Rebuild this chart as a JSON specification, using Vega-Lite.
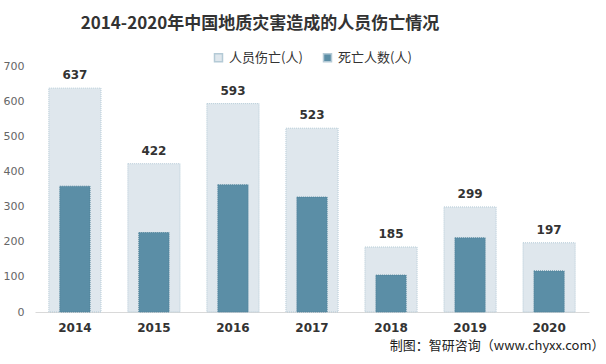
{
  "$schema": "https://vega.github.io/schema/vega-lite/v6.json",
  "width": 554,
  "height": 246,
  "autosize": {"type": "none"},
  "padding": {"left": 35, "top": 66, "right": 17, "bottom": 52},
  "background": "white",
  "config": {"view": {"stroke": null}, "font": "Noto Sans CJK SC"},
  "title": {
    "text": "2014-2020年中国地质灾害造成的人员伤亡情况",
    "fontSize": 17,
    "fontWeight": "bold",
    "font": "Noto Sans CJK SC",
    "color": "#333333",
    "anchor": "middle",
    "frame": "group",
    "dx": -52,
    "offset": 18
  },
  "data": {
    "values": [
      {"year": "2014", "series": "人员伤亡(人)", "value": 637},
      {"year": "2015", "series": "人员伤亡(人)", "value": 422},
      {"year": "2016", "series": "人员伤亡(人)", "value": 593},
      {"year": "2017", "series": "人员伤亡(人)", "value": 523},
      {"year": "2018", "series": "人员伤亡(人)", "value": 185},
      {"year": "2019", "series": "人员伤亡(人)", "value": 299},
      {"year": "2020", "series": "人员伤亡(人)", "value": 197},
      {"year": "2014", "series": "死亡人数(人)", "value": 358},
      {"year": "2015", "series": "死亡人数(人)", "value": 226},
      {"year": "2016", "series": "死亡人数(人)", "value": 362},
      {"year": "2017", "series": "死亡人数(人)", "value": 327},
      {"year": "2018", "series": "死亡人数(人)", "value": 105},
      {"year": "2019", "series": "死亡人数(人)", "value": 211},
      {"year": "2020", "series": "死亡人数(人)", "value": 117}
    ]
  },
  "encoding": {
    "x": {
      "field": "year",
      "type": "nominal",
      "scale": {"paddingInner": 0.34, "paddingOuter": 0.175},
      "axis": {
        "title": "制图：智研咨询（www.chyxx.com）",
        "titleFont": "Noto Sans CJK SC",
        "titleFontSize": 13,
        "titleFontWeight": "normal",
        "titleColor": "#222222",
        "titleAnchor": "end",
        "titleAlign": "right",
        "titleBaseline": "alphabetic",
        "titleX": 569,
        "titleY": 37,
        "labelAngle": 0,
        "labelFont": "DejaVu Sans",
        "labelFontWeight": "bold",
        "labelFontSize": 12,
        "labelColor": "#333333",
        "labelPadding": 10,
        "ticks": false,
        "domainColor": "#d9d9d9",
        "domainWidth": 1
      }
    },
    "y": {
      "field": "value",
      "type": "quantitative",
      "scale": {"domain": [0, 700]},
      "axis": {
        "title": null,
        "values": [0, 100, 200, 300, 400, 500, 600, 700],
        "domain": false,
        "ticks": false,
        "grid": false,
        "labelFont": "DejaVu Sans",
        "labelFontSize": 11,
        "labelColor": "#666666",
        "labelPadding": 11
      }
    }
  },
  "layer": [
    {
      "transform": [{"filter": "datum.series === '人员伤亡(人)'"}],
      "mark": {"type": "bar", "stroke": "#b4cad6", "strokeWidth": 1, "strokeDash": [1, 1]},
      "encoding": {
        "color": {
          "field": "series",
          "type": "nominal",
          "scale": {"domain": ["人员伤亡(人)", "死亡人数(人)"], "range": ["#dfe7ed", "#5b8ea6"]},
          "legend": {
            "title": null,
            "orient": "none",
            "legendX": 177,
            "legendY": -15,
            "direction": "horizontal",
            "columnPadding": 17,
            "labelFontSize": 13,
            "labelColor": "#333333",
            "labelFont": "Noto Sans CJK SC",
            "symbolType": "square",
            "symbolSize": 64,
            "labelOffset": 4
          }
        }
      }
    },
    {
      "transform": [{"filter": "datum.series === '死亡人数(人)'"}],
      "mark": {"type": "bar", "width": {"band": 0.58}, "stroke": "#4f8199", "strokeWidth": 1, "strokeDash": [1, 1]},
      "encoding": {
        "color": {"field": "series", "type": "nominal"}
      }
    },
    {
      "transform": [{"filter": "datum.series === '人员伤亡(人)'"}],
      "mark": {"type": "text", "dy": -13, "fontWeight": "bold", "fontSize": 12, "font": "DejaVu Sans", "color": "#333333"},
      "encoding": {
        "text": {"field": "value", "type": "quantitative"}
      }
    }
  ]
}
